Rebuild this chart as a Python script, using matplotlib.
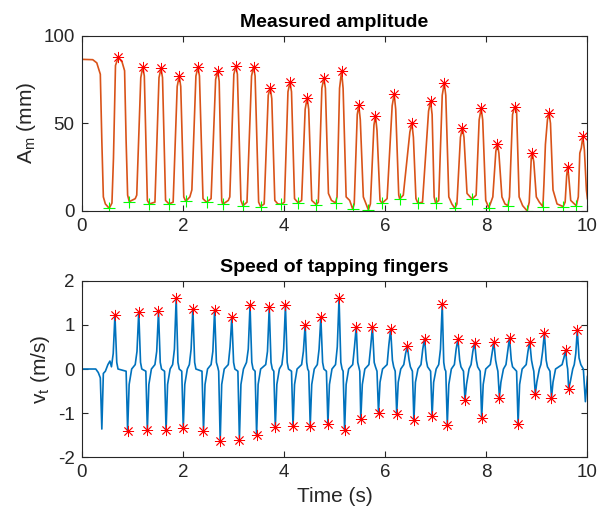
import matplotlib
matplotlib.use('Agg')
import matplotlib.pyplot as plt

plt.rcParams['font.family'] = ['Liberation Sans', 'DejaVu Sans']
plt.rcParams['axes.unicode_minus'] = False

# amplitude trace (mm), vertices
amp_t = [0.00, 0.22, 0.30, 0.37, 0.40, 0.43, 0.47, 0.546, 0.60, 0.63, 0.67, 0.725, 0.80, 0.85, 0.88, 0.91, 0.943,
         1.06, 1.09, 1.17, 1.21, 1.24, 1.30, 1.34,
         1.45, 1.53, 1.57, 1.60, 1.66, 1.73,
         1.81, 1.89, 1.93, 1.96, 2.02, 2.06,
         2.14, 2.18, 2.26, 2.30, 2.33, 2.40, 2.47,
         2.56, 2.65, 2.69, 2.72, 2.77, 2.79,
         2.90, 2.93, 3.01, 3.05, 3.08, 3.15, 3.19,
         3.27, 3.36, 3.40, 3.43, 3.50, 3.54,
         3.61, 3.69, 3.73, 3.76, 3.82, 3.88, 3.95,
         4.01, 4.08, 4.12, 4.15, 4.21, 4.28,
         4.35, 4.42, 4.46, 4.49, 4.55, 4.64,
         4.68, 4.75, 4.79, 4.82, 4.88, 4.94, 5.02,
         5.05, 5.10, 5.14, 5.17, 5.23, 5.30, 5.36,
         5.39, 5.45, 5.48, 5.51, 5.57, 5.67,
         5.71, 5.78, 5.81, 5.84, 5.90, 5.94,
         6.04, 6.14, 6.18, 6.21, 6.27, 6.29,
         6.36, 6.40, 6.49, 6.53, 6.56, 6.61, 6.65,
         6.74, 6.86, 6.90, 6.93, 6.97, 7.00,
         7.06, 7.13, 7.17, 7.20, 7.26, 7.32, 7.38,
         7.42, 7.49, 7.53, 7.56, 7.62, 7.72,
         7.80, 7.86, 7.90, 7.93, 7.99, 8.05,
         8.08, 8.13, 8.19, 8.22, 8.25, 8.31, 8.37, 8.43,
         8.46, 8.52, 8.56, 8.60, 8.65, 8.72, 8.81,
         8.85, 8.89, 8.91, 8.94, 8.99, 9.05, 9.12,
         9.14, 9.17, 9.21, 9.24, 9.27, 9.32, 9.40, 9.52,
         9.56, 9.59, 9.61, 9.63, 9.67, 9.78,
         9.82, 9.85, 9.88, 9.91, 9.94, 9.98, 10.0]
amp_mm = [86.5, 86.3, 84.5, 78, 40, 8, 4, 1.5, 4.5, 30, 83, 87.6, 85, 80, 40, 9, 5.3,
          7, 9, 76, 82.3, 77, 6, 4.0,
          5, 76, 81.4, 76, 6, 4.0,
          5, 71, 77.0, 71, 8, 5.5,
          8, 12, 77, 82.0, 77, 7, 5.0,
          7, 75, 80.0, 74, 6, 3.8,
          6, 8, 78, 82.5, 78, 6, 3.0,
          5, 77, 82.3, 77, 5, 2.5,
          4, 66, 70.3, 64, 6, 4, 3.8,
          5, 68, 73.4, 68, 7, 4.7,
          6, 58, 64.6, 58, 6, 3.6,
          5, 70, 75.7, 70, 10, 6, 4.6,
          8, 70, 79.6, 70, 8, 6, 1.1,
          4, 55, 60.3, 52, 8, 0.6,
          4, 49, 54.4, 46, 6, 4.4,
          7, 60, 66.7, 58, 9, 6.8,
          9, 20, 45, 50.2, 42, 7, 4.4,
          5, 57, 62.5, 55, 8, 4.4,
          6, 66, 73.0, 66, 8, 4, 1.5,
          4, 42, 47.5, 42, 10, 6.8,
          9, 52, 58.5, 52, 6, 1.9,
          4, 8, 34, 38.4, 33, 8, 4, 3.0,
          8, 55, 59.3, 57, 8, 3, 0.0,
          5, 30, 33.0, 28, 8, 5, 2.5,
          15, 38, 52, 56.0, 50, 12, 4, 2.5,
          5, 20, 25.1, 20, 6, 3.0,
          8, 33, 36, 42.5, 35, 12, 7]

# detected maxima / minima of the amplitude
peak_t = [0.725, 1.21, 1.57, 1.93, 2.30, 2.69, 3.05, 3.40, 3.73, 4.12, 4.46, 4.79, 5.14, 5.48,
          5.81, 6.18, 6.53, 6.90, 7.17, 7.53, 7.90, 8.22, 8.56, 8.91, 9.24, 9.61, 9.91]
peak_mm = [87.6, 82.3, 81.4, 77.0, 82.0, 80.0, 82.5, 82.3, 70.3, 73.4, 64.6, 75.7, 79.6, 60.3,
           54.4, 66.7, 50.2, 62.5, 73.0, 47.5, 58.5, 38.4, 59.3, 33.0, 56.0, 25.1, 42.5]
trough_t = [0.546, 0.943, 1.34, 1.73, 2.06, 2.47, 2.79, 3.19, 3.54, 3.95, 4.28, 4.64, 5.02, 5.36,
            5.67, 5.94, 6.29, 6.65, 7.00, 7.38, 7.72, 8.05, 8.43, 8.81, 9.12, 9.52, 9.78]
trough_mm = [1.5, 5.3, 4.0, 4.0, 5.5, 5.0, 3.8, 3.0, 2.5, 3.8, 4.7, 3.6, 4.6, 1.1,
             0.6, 4.4, 6.8, 4.4, 4.4, 1.5, 6.8, 1.9, 3.0, 0.0, 2.5, 2.5, 3.0]

# speed trace (m/s)
speed_t = [0.0, 0.28, 0.33, 0.37, 0.40, 0.43, 0.47, 0.52, 0.56, 0.59,
           0.625, 0.659, 0.695, 0.72, 0.88, 0.91, 0.94, 0.99,
           1.06, 1.095, 1.13, 1.165, 1.19, 1.27, 1.30, 1.33, 1.38,
           1.45, 1.485, 1.52, 1.555, 1.58, 1.64, 1.67, 1.70, 1.75,
           1.80, 1.835, 1.87, 1.905, 1.93, 1.98, 2.01, 2.04, 2.09,
           2.13, 2.165, 2.20, 2.235, 2.26, 2.38, 2.41, 2.44, 2.49,
           2.56, 2.595, 2.63, 2.665, 2.69, 2.71, 2.74, 2.77, 2.82,
           2.90, 2.935, 2.97, 3.005, 3.03, 3.09, 3.12, 3.15, 3.20,
           3.26, 3.295, 3.33, 3.365, 3.39, 3.43, 3.46, 3.49, 3.54,
           3.64, 3.675, 3.71, 3.745, 3.77, 3.80, 3.83, 3.86, 3.91,
           3.96, 3.995, 4.03, 4.065, 4.09, 4.15, 4.18, 4.21, 4.26,
           4.35, 4.385, 4.42, 4.45, 4.47, 4.49, 4.52, 4.55, 4.60,
           4.66, 4.695, 4.73, 4.765, 4.79, 4.84, 4.87, 4.90, 4.95,
           5.02, 5.055, 5.09, 5.125, 5.15, 5.17, 5.20, 5.23, 5.28,
           5.36, 5.395, 5.43, 5.46, 5.48, 5.50, 5.52, 5.55, 5.60,
           5.68, 5.715, 5.75, 5.785, 5.81, 5.84, 5.87, 5.90, 5.95,
           6.04, 6.075, 6.11, 6.145, 6.17, 6.20, 6.23, 6.26, 6.31,
           6.37, 6.405, 6.44, 6.475, 6.50, 6.54, 6.57, 6.60, 6.65,
           6.71, 6.745, 6.78, 6.815, 6.84, 6.90, 6.93, 6.96, 7.01,
           7.06, 7.095, 7.13, 7.16, 7.18, 7.20, 7.23, 7.26, 7.31,
           7.37, 7.405, 7.44, 7.475, 7.50, 7.55, 7.58, 7.61, 7.66,
           7.70, 7.735, 7.77, 7.805, 7.83, 7.88, 7.91, 7.94, 7.99,
           8.08, 8.115, 8.15, 8.185, 8.21, 8.23, 8.26, 8.29, 8.34,
           8.39, 8.425, 8.46, 8.495, 8.52, 8.60, 8.63, 8.66, 8.71,
           8.79, 8.825, 8.86, 8.895, 8.92, 8.94, 8.97, 9.00, 9.05,
           9.08, 9.115, 9.15, 9.185, 9.21, 9.26, 9.29, 9.32, 9.37,
           9.50, 9.535, 9.57, 9.595, 9.61, 9.63, 9.66, 9.71,
           9.74, 9.77, 9.80, 9.835, 9.87, 9.92, 9.96, 10.0]
speed_v = [0.0, 0.0, -0.08, -0.2, -1.36, -0.1, -0.05, 0.1, 0.18, 0.05,
           0.35, 1.22, 0.15, 0.0, -0.05, -1.40, -0.35, 0.0,
           0.1, 0.4, 1.30, 0.15, 0.0, -0.05, -1.39, -0.35, 0.0,
           0.1, 0.4, 1.31, 0.15, 0.0, -0.05, -1.39, -0.35, 0.0,
           0.1, 0.45, 1.61, 0.15, 0.0, -0.05, -1.33, -0.35, 0.0,
           0.1, 0.45, 1.37, 0.15, 0.0, -0.05, -1.40, -0.35, 0.0,
           0.1, 0.4, 1.34, 0.15, 0.05, -0.05, -1.63, -0.35, 0.0,
           0.1, 0.5, 1.17, 0.15, 0.0, -0.05, -1.60, -0.35, 0.0,
           0.15, 0.45, 1.44, 0.15, 0.0, -0.05, -1.49, -0.35, 0.0,
           0.1, 0.4, 1.40, 0.15, 0.0, -0.05, -1.32, -0.35, 0.0,
           0.1, 0.45, 1.44, 0.15, 0.0, -0.05, -1.30, -0.35, 0.0,
           0.1, 0.4, 1.00, 0.15, 0.0, -0.05, -1.28, -0.35, 0.0,
           0.1, 0.45, 1.17, 0.15, 0.0, -0.05, -1.24, -0.35, 0.0,
           0.1, 0.5, 1.60, 0.15, 0.0, -0.05, -1.39, -0.35, 0.0,
           0.1, 0.5, 0.96, 0.15, 0.05, -0.05, -1.13, -0.35, 0.0,
           0.1, 0.5, 0.96, 0.15, 0.05, -0.05, -0.99, -0.3, 0.0,
           0.1, 0.55, 0.90, 0.2, 0.05, -0.05, -1.01, -0.3, 0.0,
           0.1, 0.35, 0.51, 0.2, 0.05, -0.05, -1.16, -0.3, 0.0,
           0.1, 0.45, 0.69, 0.2, 0.05, -0.05, -1.07, -0.3, 0.0,
           0.1, 0.45, 1.47, 0.15, 0.0, -0.05, -1.26, -0.35, 0.0,
           0.1, 0.45, 0.68, 0.2, 0.05, -0.05, -0.70, -0.35, 0.0,
           0.1, 0.4, 0.60, 0.2, 0.05, -0.05, -1.12, -0.35, 0.0,
           0.1, 0.35, 0.61, 0.2, 0.05, -0.05, -0.65, -0.3, 0.0,
           0.1, 0.4, 0.71, 0.2, 0.05, -0.05, -1.25, -0.35, 0.0,
           0.1, 0.4, 0.62, 0.2, 0.05, -0.05, -0.57, -0.3, 0.0,
           0.1, 0.4, 0.82, 0.2, 0.05, -0.05, -0.66, -0.3, 0.0,
           0.1, 0.25, 0.42, 0.1, 0.0, -0.46, -0.3, 0.0,
           0.1, 0.35, 0.88, 0.25, 0.1, 0.0, -0.74, -0.17]

vmax_t = [0.659, 1.13, 1.52, 1.87, 2.20, 2.63, 2.97, 3.33, 3.71, 4.03, 4.42, 4.73, 5.09, 5.43,
          5.75, 6.11, 6.44, 6.78, 7.13, 7.44, 7.77, 8.15, 8.46, 8.86, 9.15, 9.57, 9.80]
vmax = [1.22, 1.30, 1.31, 1.61, 1.37, 1.34, 1.17, 1.44, 1.40, 1.44, 1.00, 1.17, 1.60, 0.96,
        0.96, 0.90, 0.51, 0.69, 1.47, 0.68, 0.60, 0.61, 0.71, 0.62, 0.82, 0.42, 0.88]
vmin_t = [0.91, 1.30, 1.67, 2.01, 2.41, 2.74, 3.12, 3.46, 3.83, 4.18, 4.52, 4.87, 5.20,
          5.52, 5.87, 6.23, 6.57, 6.93, 7.23, 7.58, 7.91, 8.26, 8.63, 8.97, 9.29, 9.63]
vmin = [-1.40, -1.39, -1.39, -1.33, -1.40, -1.63, -1.60, -1.49, -1.32, -1.30, -1.28, -1.24, -1.39,
        -1.13, -0.99, -1.01, -1.16, -1.07, -1.26, -0.70, -1.12, -0.65, -1.25, -0.57, -0.66, -0.46]

orange = '#D95319'
blue = '#0072BD'
axcol = '#262626'
star = (8, 2, 0)  # matlab-like asterisk

fig = plt.figure(figsize=(6, 5.17), dpi=100)
ax1 = fig.add_axes([0.136, 0.592, 0.843, 0.339])
ax2 = fig.add_axes([0.136, 0.1155, 0.843, 0.3415])

ax1.plot(amp_t, amp_mm, color=orange, lw=1.2)
ax1.plot(peak_t, peak_mm, ls='none', marker=star, ms=8, mec='red', mew=0.6)
ax1.plot(trough_t, trough_mm, ls='none', marker='+', ms=8, mec='#00FF00', mew=0.8)
ax1.set_xlim(0, 10)
ax1.set_ylim(0, 100)
ax1.set_yticks([0, 50, 100])
ax1.set_ylabel('A$_\\mathregular{m}$ (mm)', fontsize=15, color=axcol)
ax1.set_title('Measured amplitude', fontsize=14, fontweight='bold', pad=6)

ax2.plot(speed_t, speed_v, color=blue, lw=1.2)
ax2.plot(vmax_t, vmax, ls='none', marker=star, ms=8, mec='red', mew=0.6)
ax2.plot(vmin_t, vmin, ls='none', marker=star, ms=8, mec='red', mew=0.6)
ax2.set_xlim(0, 10)
ax2.set_ylim(-2, 2)
ax2.set_yticks([-2, -1, 0, 1, 2])
ax2.set_ylabel('v$_\\mathregular{t}$ (m/s)', fontsize=15, color=axcol)
ax2.set_xlabel('Time (s)', fontsize=15, color=axcol)
ax2.set_title('Speed of tapping fingers', fontsize=14, fontweight='bold', pad=6)

for ax in (ax1, ax2):
    ax.set_xticks(range(0, 11, 2))
    ax.tick_params(direction='in', top=True, right=True, length=4, width=0.8,
                   labelsize=13.5, colors=axcol, pad=5)
    for s in ax.spines.values():
        s.set_color(axcol)
        s.set_linewidth(0.8)

fig.savefig('out.png', dpi=100)
